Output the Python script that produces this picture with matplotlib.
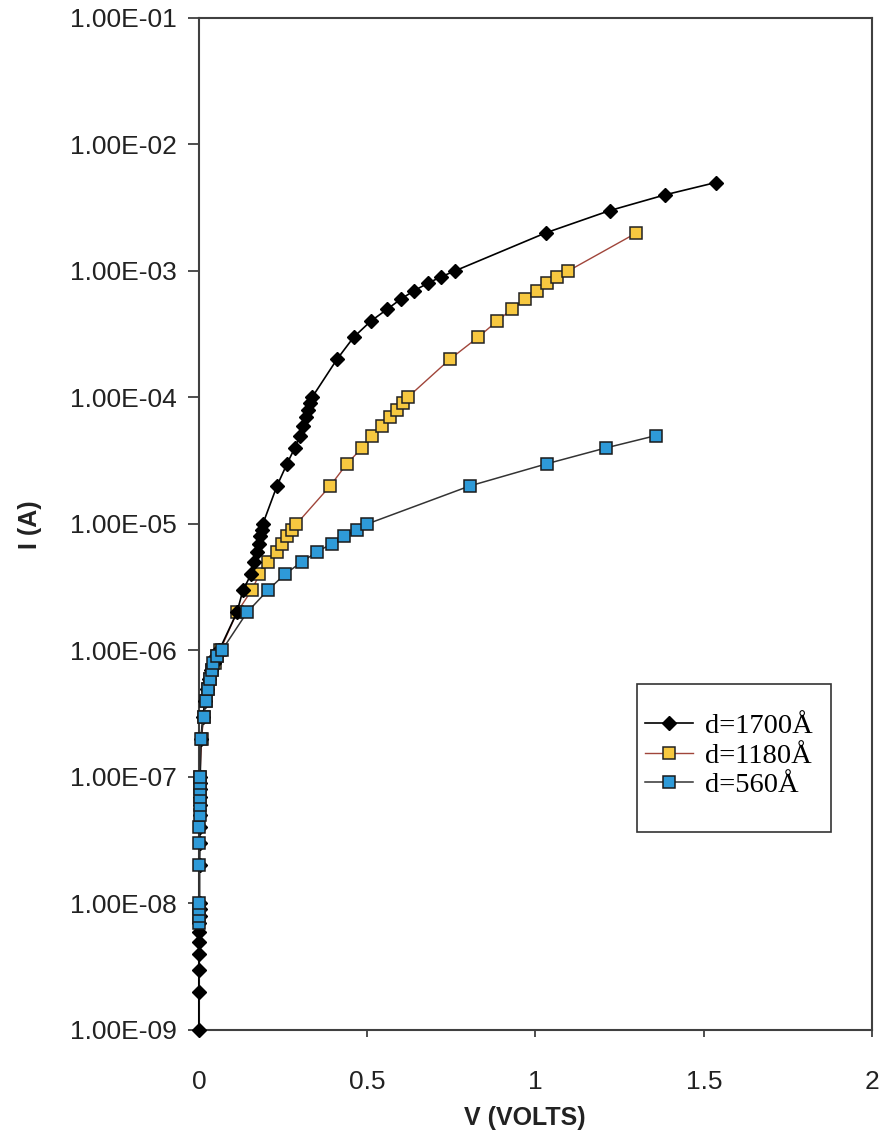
import matplotlib
matplotlib.use('Agg')
import matplotlib.pyplot as plt
from matplotlib.patches import Rectangle
import numpy as np

plt.rcParams['font.family'] = 'Liberation Sans'

# d = 1700 A (black diamonds)
v_1700 = [0.0, 0.0, 0.0, 0.001, 0.001, 0.001, 0.001, 0.002, 0.002, 0.002,
          0.002, 0.003, 0.003, 0.003, 0.004, 0.004, 0.004, 0.004, 0.004,
          0.006, 0.012, 0.018, 0.025, 0.030, 0.037, 0.044, 0.050, 0.060,
          0.113, 0.131, 0.155, 0.165, 0.172, 0.178, 0.183, 0.187, 0.190,
          0.232, 0.262, 0.285, 0.300, 0.310, 0.318, 0.325, 0.330, 0.336,
          0.410, 0.460, 0.510, 0.560, 0.600, 0.640, 0.680, 0.720, 0.760,
          1.030, 1.220, 1.385, 1.535]
i_1700 = [1e-9, 2e-9, 3e-9, 4e-9, 5e-9, 6e-9, 7e-9, 8e-9, 9e-9, 1e-8,
          2e-8, 3e-8, 4e-8, 5e-8, 6e-8, 7e-8, 8e-8, 9e-8, 1e-7,
          2e-7, 3e-7, 4e-7, 5e-7, 6e-7, 7e-7, 8e-7, 9e-7, 1e-6,
          2e-6, 3e-6, 4e-6, 5e-6, 6e-6, 7e-6, 8e-6, 9e-6, 1e-5,
          2e-5, 3e-5, 4e-5, 5e-5, 6e-5, 7e-5, 8e-5, 9e-5, 1e-4,
          2e-4, 3e-4, 4e-4, 5e-4, 6e-4, 7e-4, 8e-4, 9e-4, 1e-3,
          2e-3, 3e-3, 4e-3, 5e-3]

# d = 1180 A (yellow squares)
v_1180 = [0.003, 0.008, 0.014, 0.020, 0.027, 0.033, 0.040, 0.047, 0.054, 0.063,
          0.113, 0.157, 0.180, 0.205, 0.232, 0.247, 0.261, 0.276, 0.290,
          0.390, 0.440, 0.485, 0.515, 0.545, 0.568, 0.590, 0.606, 0.620,
          0.745, 0.830, 0.885, 0.930, 0.970, 1.005, 1.035, 1.065, 1.097,
          1.300]
i_1180 = [1e-7, 2e-7, 3e-7, 4e-7, 5e-7, 6e-7, 7e-7, 8e-7, 9e-7, 1e-6,
          2e-6, 3e-6, 4e-6, 5e-6, 6e-6, 7e-6, 8e-6, 9e-6, 1e-5,
          2e-5, 3e-5, 4e-5, 5e-5, 6e-5, 7e-5, 8e-5, 9e-5, 1e-4,
          2e-4, 3e-4, 4e-4, 5e-4, 6e-4, 7e-4, 8e-4, 9e-4, 1e-3,
          2e-3]

# d = 560 A (blue squares)
v_560 = [0.001, 0.001, 0.001, 0.001,
         0.001, 0.001, 0.001, 0.002, 0.002, 0.002, 0.002, 0.002, 0.002,
         0.005, 0.015, 0.021, 0.026, 0.033, 0.038, 0.043, 0.053, 0.068,
         0.143, 0.205, 0.255, 0.305, 0.350, 0.395, 0.430, 0.470, 0.500,
         0.805, 1.035, 1.210, 1.358]
i_560 = [7e-9, 8e-9, 9e-9, 1e-8,
         2e-8, 3e-8, 4e-8, 5e-8, 6e-8, 7e-8, 8e-8, 9e-8, 1e-7,
         2e-7, 3e-7, 4e-7, 5e-7, 6e-7, 7e-7, 8e-7, 9e-7, 1e-6,
         2e-6, 3e-6, 4e-6, 5e-6, 6e-6, 7e-6, 8e-6, 9e-6, 1e-5,
         2e-5, 3e-5, 4e-5, 5e-5]

y_ticks = [1e-9, 1e-8, 1e-7, 1e-6, 1e-5, 1e-4, 1e-3, 1e-2, 1e-1]
y_labels = ['1.00E-09', '1.00E-08', '1.00E-07', '1.00E-06', '1.00E-05',
            '1.00E-04', '1.00E-03', '1.00E-02', '1.00E-01']
x_ticks = [0, 0.5, 1, 1.5, 2]
x_labels = ['0', '0.5', '1', '1.5', '2']

fig = plt.figure(figsize=(8.8, 11.39), dpi=100)
ax = fig.add_axes([0.226, 0.0957, 0.765, 0.8885])

ax.plot(v_1700, i_1700, color='black', lw=1.2, marker='D', markersize=7,
        markerfacecolor='black', markeredgecolor='black', label='d=1700Å',
        zorder=3, clip_on=False)
ax.plot(v_1180, i_1180, color='#a0453a', lw=1.0, marker='s', markersize=8.5,
        markerfacecolor='#f7c840', markeredgecolor='#222222', markeredgewidth=1.1,
        label='d=1180Å', zorder=2, clip_on=False)
ax.plot(v_560, i_560, color='#333333', lw=1.1, marker='s', markersize=8.5,
        markerfacecolor='#2e9ad8', markeredgecolor='#1a1a1a', markeredgewidth=1.1,
        label='d=560Å', zorder=4, clip_on=False)

ax.set_yscale('log')
ax.set_ylim(1e-9, 1e-1)
ax.set_xlim(0, 2)
ax.set_yticks(y_ticks)
ax.set_yticklabels(y_labels)
ax.yaxis.set_minor_locator(matplotlib.ticker.NullLocator())
ax.set_xticks(x_ticks)
ax.set_xticklabels(x_labels)

for s in ax.spines.values():
    s.set_linewidth(1.5)
    s.set_color('#404040')
    s.set_zorder(1)
ax.tick_params(axis='y', direction='out', length=8, width=1.3, color='#404040',
               labelsize=19, pad=8, labelcolor='#222222')
ax.tick_params(axis='x', direction='out', length=5, width=1.3, color='#404040',
               labelsize=19, pad=24, labelcolor='#222222')

fig.text(0.034, 1 - 525 / 1139, 'I (A)', rotation=90, ha='center', va='center',
         fontsize=18, fontweight='bold', color='#222222')
fig.text(525 / 880, 1 - 1118 / 1139, 'V (VOLTS)', ha='center', va='center',
         fontsize=18, fontweight='bold', color='#222222')

# legend frame drawn separately so its padding matches the original box
ax.add_patch(Rectangle((0.651, 0.1957), 0.288, 0.1465, transform=ax.transAxes,
                       facecolor='white', edgecolor='#333333', lw=1.2, zorder=5))
leg = ax.legend(loc='center', bbox_to_anchor=(0.787, 0.271),
                prop={'family': 'Liberation Serif', 'size': 20.5}, frameon=False,
                handlelength=1.7, handletextpad=0.4, labelspacing=0.12)
leg.set_zorder(6)

fig.savefig('out.png', dpi=100)
